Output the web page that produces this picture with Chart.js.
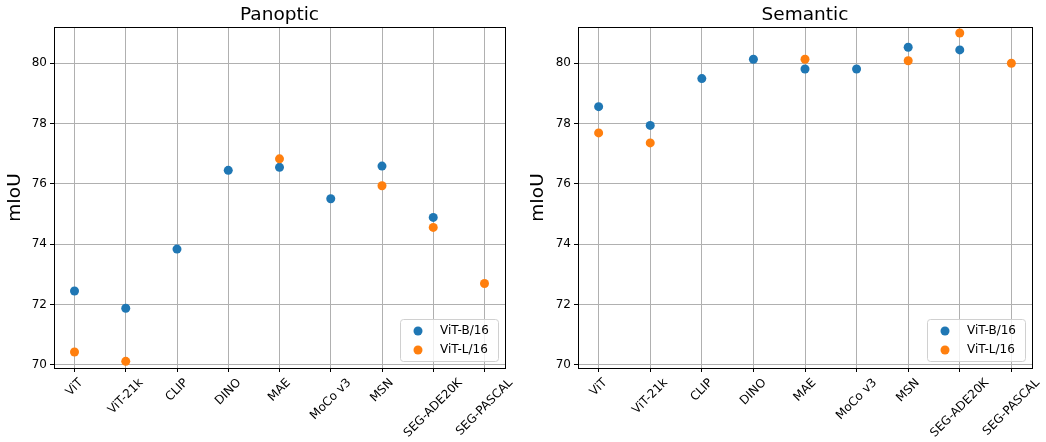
<!DOCTYPE html>
<html>
<head>
<meta charset="utf-8">
<script src="https://cdn.jsdelivr.net/npm/chart.js@4.4.1/dist/chart.umd.min.js"></script>
<style>
  body { margin: 0; background: #fff; }
  #wrap { position: relative; width: 1046px; height: 442px; }
  canvas { position: absolute; top: 0; }
</style>
</head>
<body>
<div id="wrap">
  <canvas id="panoptic" width="523" height="442" style="left:0"></canvas>
  <canvas id="semantic" width="523" height="442" style="left:523px"></canvas>
</div>
<script>
const methods = ['ViT', 'ViT-21k', 'CLIP', 'DINO', 'MAE', 'MoCo v3', 'MSN', 'SEG-ADE20K', 'SEG-PASCAL']
const yTicks = [70, 72, 74, 76, 78, 80]
const seriesNames = ['ViT-B/16', 'ViT-L/16']
const seriesColors = ['#1f77b4', '#ff7f0e']

// null means no result for that backbone
const panopticB = [72.45, 71.88, 73.84, 76.45, 76.55, 75.51, 76.59, 74.89, null]
const panopticL = [70.43, 70.12, null, null, 76.83, null, 75.94, 74.56, 72.70]
const semanticB = [78.56, 77.94, 79.49, 80.13, 79.81, 79.81, 80.53, 80.44, null]
const semanticL = [77.69, 77.36, null, null, 80.13, null, 80.08, 81.00, 80.00]

const FONT = "'DejaVu Sans', sans-serif"

function toPoints(values) {
  var pts = []
  values.forEach(function (v, i) {
    if (v !== null) pts.push({ x: i, y: v })
  })
  return pts
}

// matplotlib style: box around the whole axes
const framePlugin = {
  id: 'frame',
  afterDatasetsDraw(chart) {
    const a = chart.chartArea
    const ctx = chart.ctx
    ctx.save()
    ctx.strokeStyle = '#000'
    ctx.lineWidth = 1
    ctx.strokeRect(Math.round(a.left) + 0.5, Math.round(a.top) + 0.5,
      Math.round(a.right - a.left), Math.round(a.bottom - a.top))
    ctx.restore()
  }
}

// title centred over the axes, not the whole canvas
const titlePlugin = {
  id: 'axesTitle',
  afterDraw(chart, args, opts) {
    const ctx = chart.ctx
    const a = chart.chartArea
    ctx.save()
    ctx.font = '18.5px ' + FONT
    ctx.fillStyle = '#000'
    ctx.textAlign = 'center'
    ctx.textBaseline = 'alphabetic'
    ctx.fillText(opts.text, (a.left + a.right) / 2, 20)
    ctx.restore()
  }
}

// rotated x labels centred on the tick, like matplotlib rotation=45
const xLabelPlugin = {
  id: 'xlabels',
  afterDraw(chart) {
    const ctx = chart.ctx
    const xs = chart.scales.x
    const top = chart.chartArea.bottom + 8
    const h = 14
    ctx.save()
    ctx.font = '12px ' + FONT
    ctx.fillStyle = '#000'
    ctx.textAlign = 'center'
    ctx.textBaseline = 'middle'
    methods.forEach(function (name, i) {
      const w = ctx.measureText(name).width
      const x = xs.getPixelForValue(i)
      const y = top + (w + h) / (2 * Math.SQRT2)
      ctx.save()
      ctx.translate(x, y)
      ctx.rotate(-Math.PI / 4)
      ctx.fillText(name, 0, 0)
      ctx.restore()
    })
    ctx.restore()
  }
}

// legend box in the lower right corner inside the axes
const legendPlugin = {
  id: 'innerLegend',
  afterDraw(chart) {
    const ctx = chart.ctx
    const a = chart.chartArea
    const bw = 98, bh = 42
    const bx = a.right - 7 - bw
    const by = a.bottom - 7 - bh
    ctx.save()
    ctx.beginPath()
    ctx.roundRect(bx + 0.5, by + 0.5, bw, bh, 3)
    ctx.fillStyle = 'rgba(255,255,255,0.8)'
    ctx.fill()
    ctx.strokeStyle = '#d0d0d0'
    ctx.lineWidth = 1
    ctx.stroke()
    ctx.font = '12px ' + FONT
    ctx.textBaseline = 'middle'
    ctx.textAlign = 'left'
    seriesNames.forEach(function (name, i) {
      const cy = by + 12 + i * 19
      ctx.beginPath()
      ctx.arc(bx + 18, cy, 4.5, 0, Math.PI * 2)
      ctx.fillStyle = seriesColors[i]
      ctx.fill()
      ctx.fillStyle = '#000'
      ctx.fillText(name, bx + 40, cy)
    })
    ctx.restore()
  }
}

function makeChart(id, title, bValues, lValues, yWidth, padRight) {
  const ctx = document.getElementById(id).getContext('2d')
  return new Chart(ctx, {
    type: 'scatter',
    data: {
      datasets: [{
        label: seriesNames[0],
        data: toPoints(bValues),
        backgroundColor: seriesColors[0],
        borderWidth: 0,
        pointRadius: 4.5,
        order: 1
      }, {
        label: seriesNames[1],
        data: toPoints(lValues),
        backgroundColor: seriesColors[1],
        borderWidth: 0,
        pointRadius: 4.5,
        order: 0
      }]
    },
    options: {
      responsive: false,
      animation: false,
      events: [],
      layout: { padding: { left: 0, right: padRight, top: 27, bottom: 0 } },
      plugins: {
        legend: { display: false },
        tooltip: { enabled: false },
        title: { display: false },
        axesTitle: { text: title }
      },
      scales: {
        x: {
          type: 'linear',
          min: -0.4,
          max: 8.4,
          afterBuildTicks: function (scale) {
            scale.ticks = methods.map(function (m, i) { return { value: i } })
          },
          afterFit: function (scale) { scale.height = 74 },
          ticks: { display: false },
          grid: { color: '#b0b0b0', lineWidth: 1, tickColor: '#000', tickLength: 4, drawTicks: true },
          border: { display: true, color: '#000' }
        },
        y: {
          min: 69.9,
          max: 81.2,
          afterBuildTicks: function (scale) {
            scale.ticks = yTicks.map(function (v) { return { value: v } })
          },
          afterFit: function (scale) { scale.width = yWidth },
          ticks: {
            color: '#000',
            padding: 3,
            font: { family: FONT, size: 12 },
            callback: function (v) { return v }
          },
          title: {
            display: true,
            text: 'mIoU',
            color: '#000',
            font: { family: FONT, size: 18.5 },
            padding: { top: 4, bottom: 0 }
          },
          grid: { color: '#b0b0b0', lineWidth: 1, tickColor: '#000', tickLength: 4 },
          border: { display: true, color: '#000' }
        }
      }
    },
    plugins: [framePlugin, titlePlugin, xLabelPlugin, legendPlugin]
  })
}

makeChart('panoptic', 'Panoptic', panopticB, panopticL, 54, 18)
makeChart('semantic', 'Semantic', semanticB, semanticL, 55, 14)
</script>
</body>
</html>
